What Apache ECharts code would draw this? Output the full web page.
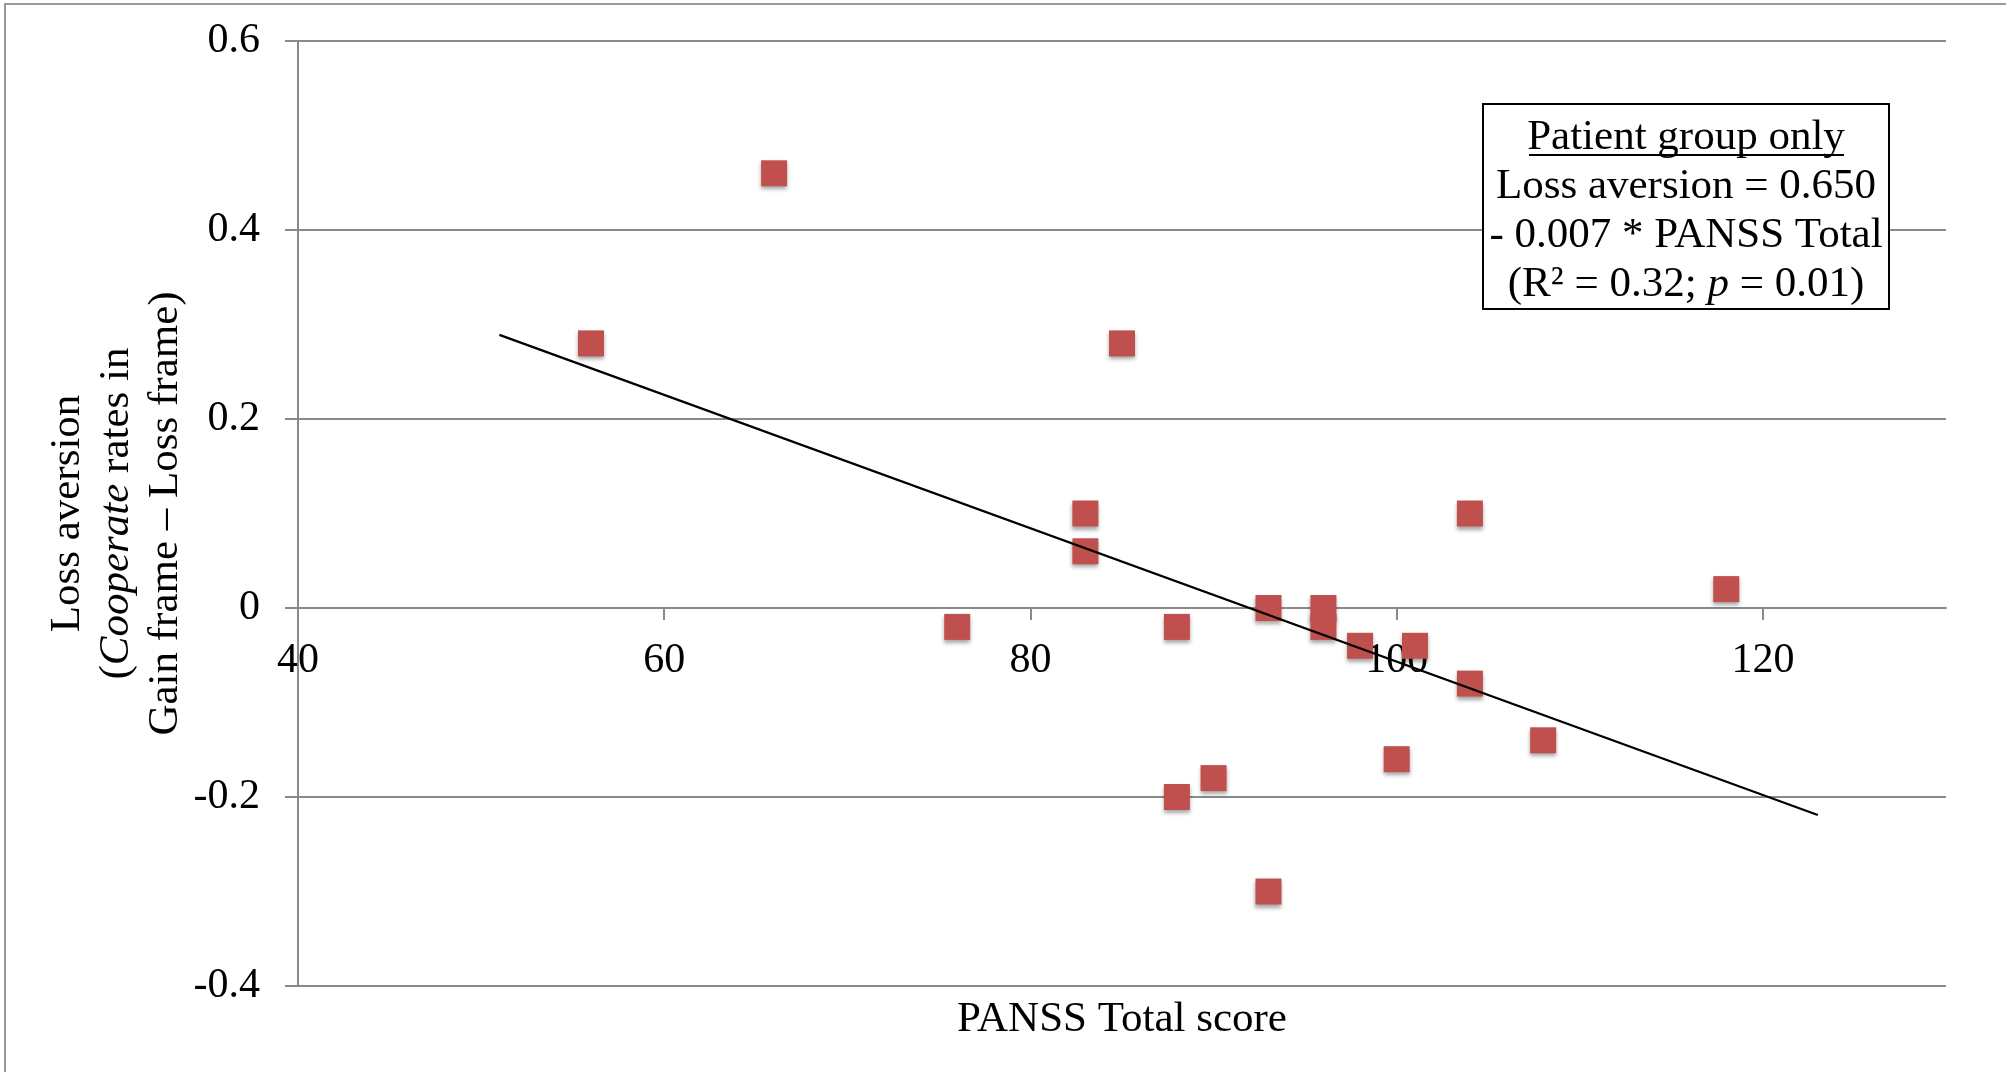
<!DOCTYPE html>
<html><head><meta charset="utf-8">
<script src="https://cdn.jsdelivr.net/npm/echarts@6/dist/echarts.min.js"></script>
<style>html,body{margin:0;padding:0;background:#fff}#c{width:2006px;height:1072px}</style>
</head><body><div id="c"></div>
<script>
// PANSS Total score (x) and loss aversion (y) for each patient
const panss = [56, 66, 76, 83, 83, 85, 88, 88, 90, 93, 93, 96, 96, 98, 101, 100, 104, 104, 108, 118];
const lossAversion = [0.28, 0.46, -0.02, 0.10, 0.06, 0.28, -0.02, -0.20, -0.18, 0.00, -0.30, 0.00, -0.02, -0.04, -0.04, -0.16, 0.10, -0.08, -0.14, 0.02];
// trend line end points
const trendX = [51, 123];
const trendY = [0.289, -0.219];
// tick labels
const xTicks = [40, 60, 80, 100, 120];
const yTicks = [-0.4, -0.2, 0, 0.2, 0.4, 0.6];

const FONT = '"Liberation Serif", "DejaVu Serif", serif';
const FS = 42;
const FN = 43;
const GRID = '#8a8a8a';

const points = panss.map((x, i) => [x, lossAversion[i]]);
const trend = trendX.map((x, i) => [x, trendY[i]]);

const chart = echarts.init(document.getElementById('c'), null, {renderer: 'canvas'});
chart.setOption({
  animation: false,
  backgroundColor: '#fff',
  grid: {left: 298, right: 60, top: 41, bottom: 86, containLabel: false, outerBoundsMode: 'none'},
  xAxis: {
    type: 'value', min: 40, max: 130, interval: 20,
    position: 'bottom', offset: -378,
    axisLine: {onZero: false, lineStyle: {color: GRID, width: 2}},
    axisTick: {show: true, length: 12, lineStyle: {color: GRID, width: 2}, customValues: xTicks},
    axisLabel: {customValues: xTicks, margin: 32, color: '#000', fontFamily: FONT, fontSize: FS},
    splitLine: {show: false},
    name: 'PANSS Total score', nameLocation: 'middle', nameGap: 390, nameMoveOverlap: false,
    nameTextStyle: {color: '#000', fontFamily: FONT, fontSize: FN}
  },
  yAxis: {
    type: 'value', min: yTicks[0], max: yTicks[yTicks.length - 1], interval: 0.2,
    axisLine: {show: true, lineStyle: {color: GRID, width: 2}},
    axisTick: {show: true, length: 13, lineStyle: {color: GRID, width: 2}},
    axisLabel: {margin: 38, color: '#000', fontFamily: FONT, fontSize: FS,
      formatter: v => String(Math.round(v * 10) / 10)},
    splitLine: {show: true, lineStyle: {color: GRID, width: 2}},
    name: '{a|Loss aversion}\n{a|(}{i|Cooperate}{a| rates in}\n{a|Gain frame – Loss frame)}',
    nameLocation: 'middle', nameRotate: 90, nameGap: 108, nameMoveOverlap: false,
    nameTextStyle: {
      color: '#000', fontFamily: FONT, fontSize: FN, lineHeight: 49,
      rich: {
        a: {color: '#000', fontFamily: FONT, fontSize: FN, lineHeight: 49},
        i: {color: '#000', fontFamily: FONT, fontSize: FN, lineHeight: 49, fontStyle: 'italic'}
      }
    }
  },
  series: [
    {
      type: 'scatter', data: points, symbol: 'rect', symbolSize: 26, z: 3,
      itemStyle: {color: '#C0504D', opacity: 1, shadowBlur: 4, shadowColor: 'rgba(0,0,0,0.35)', shadowOffsetY: 3}
    },
    {
      type: 'line', data: trend, symbol: 'none', z: 4,
      lineStyle: {color: '#000', width: 2.2}
    }
  ],
  graphic: [
    {type: 'rect', silent: true, z: -10, shape: {x: 5, y: 4, width: 2200, height: 1300},
      style: {fill: 'none', stroke: '#9a9a9a', lineWidth: 2}},
    {type: 'rect', silent: true, z: 20, shape: {x: 1483, y: 104, width: 406, height: 205},
      style: {fill: '#fff', stroke: '#000', lineWidth: 2}},
    {type: 'text', silent: true, z: 21, x: 1686, y: 211,
      style: {
        text: '{a|Patient group only}\n{a|Loss aversion = 0.650}\n{a|- 0.007 * PANSS Total}\n{a|(R² = 0.32; }{i|p}{a| = 0.01)}',
        align: 'center', verticalAlign: 'middle', fill: '#000',
        fontFamily: FONT, fontSize: FN, lineHeight: 49,
        rich: {
          a: {fill: '#000', fontFamily: FONT, fontSize: FN, lineHeight: 49},
          i: {fill: '#000', fontFamily: FONT, fontSize: FN, lineHeight: 49, fontStyle: 'italic'}
        }
      }},
    {type: 'line', silent: true, z: 21, shape: {x1: 1529, y1: 155, x2: 1844, y2: 155},
      style: {stroke: '#000', lineWidth: 2}}
  ]
});
</script>
</body></html>
